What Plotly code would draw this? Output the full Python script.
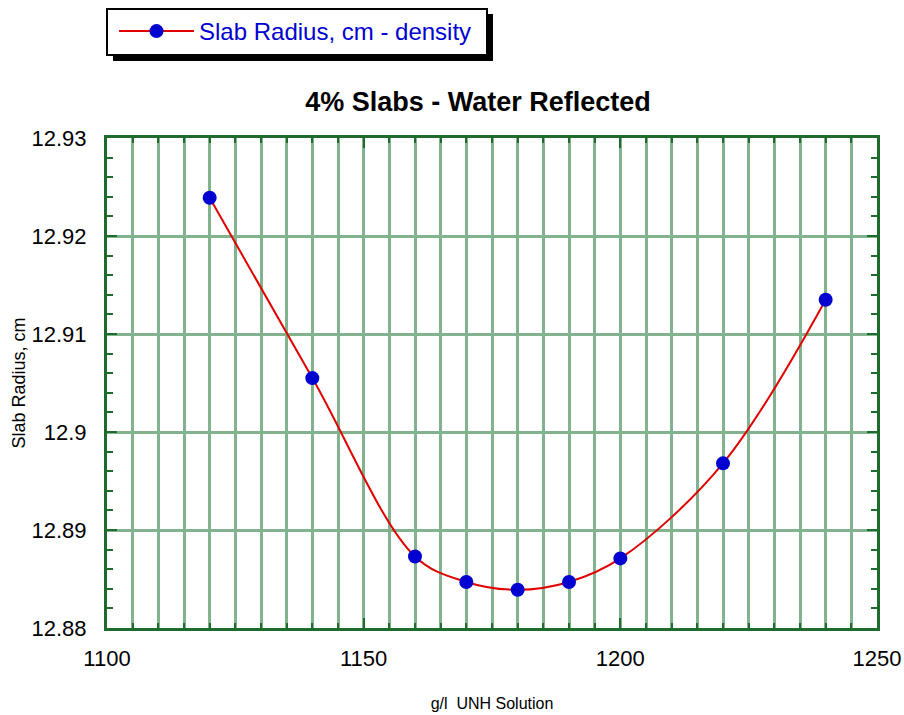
import plotly.graph_objects as go

density = [1120, 1140, 1160, 1170, 1180, 1190, 1200, 1220, 1240]
radius = [12.9239, 12.9055, 12.8873, 12.8847, 12.8839, 12.8847, 12.8871, 12.8968, 12.9135]

y_tickvals = [12.88, 12.89, 12.90, 12.91, 12.92, 12.93]
y_ticktext = ["12.88", "12.89", "12.9", "12.91", "12.92", "12.93"]
x_tickvals = [1100, 1150, 1200, 1250]
x_ticktext = ["1100", "1150", "1200", "1250"]

AX = "#1f6b2e"
GRID = "#80b38e"
FONT = "Liberation Sans, Arial, sans-serif"

W, H = 904, 715
L, T, R, B = 107, 138, 877, 628
PW, PH = R - L, B - T


def px(fx):
    return (fx - L) / PW


def py(fy):
    return (B - fy) / PH


fig = go.Figure()
fig.add_trace(go.Scatter(
    x=density, y=radius, mode="lines+markers",
    name="Slab Radius, cm - density",
    line=dict(color="#e00000", width=2, shape="spline", smoothing=1.0),
    marker=dict(color="#0000d0", size=14),
))

fig.update_layout(
    width=W, height=H,
    margin=dict(l=L, r=W - R, t=T, b=H - B, autoexpand=False),
    paper_bgcolor="white", plot_bgcolor="white",
    font=dict(family=FONT, color="black"),
    title=dict(text="<b>4% Slabs - Water Reflected</b>", font=dict(size=27, family=FONT),
               x=478 / W, xref="container", xanchor="center",
               y=1 - 102 / H, yref="container", yanchor="middle"),
    showlegend=True,
    legend=dict(x=px(114), xanchor="left", y=py(31.5), yanchor="middle",
                bgcolor="rgba(0,0,0,0)", borderwidth=0,
                font=dict(size=24, color="#0000d0", family=FONT),
                itemwidth=75),
    shapes=[
        dict(type="rect", xref="paper", yref="paper", layer="above",
             x0=px(113), x1=px(493), y0=py(61), y1=py(14),
             fillcolor="black", line=dict(width=0)),
        dict(type="rect", xref="paper", yref="paper", layer="above",
             x0=px(107), x1=px(487), y0=py(55), y1=py(9),
             fillcolor="white", line=dict(color="black", width=2)),
    ],
)

fig.update_xaxes(
    range=[1100, 1250], tickvals=x_tickvals, ticktext=x_ticktext,
    tickfont=dict(size=22), ticks="inside", ticklen=10, tickwidth=2, tickcolor=AX,
    ticklabelstandoff=9,
    showline=True, linecolor=AX, linewidth=3, mirror="ticks",
    showgrid=True, gridcolor=GRID, gridwidth=2.5, zeroline=False,
    minor=dict(dtick=5, tick0=1100, ticks="inside", ticklen=5, tickwidth=2, tickcolor=AX,
               showgrid=True, gridcolor=GRID, gridwidth=2.5),
    title=dict(text="g/l  UNH Solution", font=dict(size=16), standoff=28),
)
fig.update_yaxes(
    range=[12.88, 12.93], tickvals=y_tickvals, ticktext=y_ticktext,
    tickfont=dict(size=22), ticks="inside", ticklen=10, tickwidth=2, tickcolor=AX,
    ticklabelstandoff=13,
    showline=True, linecolor=AX, linewidth=3, mirror="ticks",
    showgrid=True, gridcolor=GRID, gridwidth=2.5, zeroline=False,
    minor=dict(dtick=0.002, tick0=12.88, ticks="inside", ticklen=6, tickwidth=2, tickcolor=AX,
               showgrid=False),
    title=dict(text="Slab Radius, cm", font=dict(size=18), standoff=2),
)

# remove the browser's default page margin so the 904x715 figure fills the window
fig.write_html(
    "out.html",
    config={"displayModeBar": False},
    post_script="document.body.style.margin='0';document.body.style.overflow='hidden';",
)
